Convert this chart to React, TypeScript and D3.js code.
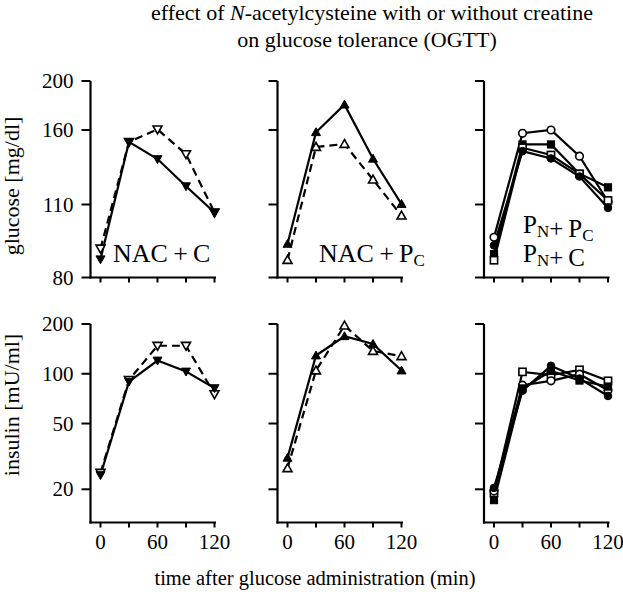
import React from "react";
import * as d3 from "d3";

// ---------- data ----------
const times = [0, 30, 60, 90, 120];
const xTickLabels = [0, 60, 120];
const glucoseTicks = [80, 110, 160, 200];
const insulinTicks = [20, 50, 100, 200];

// glucose [mg/dl]
const gluNacC_solid = [87.5, 152, 140.5, 122.3, 106.7];
const gluNacC_dashed = [91.9, 152, 160.5, 143.8, 106.7];
const gluNacP_solid = [93.8, 158.5, 180.7, 140.7, 110.3];
const gluNacP_dashed = [87.2, 148.6, 150.6, 126.7, 105.4];
const gluP_openCircle = [96.5, 157.8, 160, 142.4, 112];
const gluP_filledSquare = [89.6, 150.3, 150.3, 130.7, 121.5];
const gluP_openSquare = [87.1, 148.1, 143.2, 130.5, 112.7];
const gluP_filledCircle = [93.2, 145.8, 140.9, 128.8, 108.6];

// insulin [mU/ml]
const insNacC_solid = [24.4, 89.7, 120.3, 103.2, 81.9];
const insNacC_dashed = [25.2, 91.9, 147.7, 147.7, 75.3];
const insNacP_solid = [31.0, 128.9, 168.6, 151.4, 104.6];
const insNacP_dashed = [26.8, 104.6, 195.6, 137.4, 127.7];
const insP_openSquare = [19.0, 102.7, 98, 105.6, 90.6];
const insP_openCircle = [19.5, 85.3, 90.6, 99.4, 79.5];
const insP_filledCircle = [20.4, 79, 111.7, 93.6, 73.4];
const insP_filledSquare = [17.2, 81.5, 104, 91, 83.7];

type Series = { values: number[]; shape: string; filled: boolean; dashed: boolean };

const glucosePanels: Series[][] = [
  [
    { values: gluNacC_dashed, shape: "tdown", filled: false, dashed: true },
    { values: gluNacC_solid, shape: "tdown", filled: true, dashed: false },
  ],
  [
    { values: gluNacP_dashed, shape: "tup", filled: false, dashed: true },
    { values: gluNacP_solid, shape: "tup", filled: true, dashed: false },
  ],
  [
    { values: gluP_openCircle, shape: "circle", filled: false, dashed: false },
    { values: gluP_filledSquare, shape: "square", filled: true, dashed: false },
    { values: gluP_openSquare, shape: "square", filled: false, dashed: false },
    { values: gluP_filledCircle, shape: "circle", filled: true, dashed: false },
  ],
];
const insulinPanels: Series[][] = [
  [
    { values: insNacC_dashed, shape: "tdown", filled: false, dashed: true },
    { values: insNacC_solid, shape: "tdown", filled: true, dashed: false },
  ],
  [
    { values: insNacP_dashed, shape: "tup", filled: false, dashed: true },
    { values: insNacP_solid, shape: "tup", filled: true, dashed: false },
  ],
  [
    { values: insP_openSquare, shape: "square", filled: false, dashed: false },
    { values: insP_openCircle, shape: "circle", filled: false, dashed: false },
    { values: insP_filledCircle, shape: "circle", filled: true, dashed: false },
    { values: insP_filledSquare, shape: "square", filled: true, dashed: false },
  ],
];

// ---------- layout ----------
const W = 623;
const H = 592;
const FONT = "'Liberation Serif', 'Times New Roman', serif";
const axisXs = [90.5, 277.5, 484];
const xOffset = 10;
const xWidth = 114;

const topRow = { yTop: 81, yBottom: 277.5 };
const botRow = { yTop: 324, yBottom: 522.5 };

const yGlucose = d3
  .scaleLinear()
  .domain([80, 110, 160, 200])
  .range([277.5, 204.5, 130, 81]);
const yInsulin = d3.scaleLog().domain([200, 20]).range([324, 489.3]);

function Marker({ x, y, shape, filled }: { x: number; y: number; shape: string; filled: boolean }) {
  const fill = filled ? "#000" : "#fff";
  const sw = filled ? 1 : 1.6;
  if (shape === "circle") {
    return <circle cx={x} cy={y} r={3.8} fill={fill} stroke="#000" strokeWidth={sw} />;
  }
  if (shape === "square") {
    return <rect x={x - 3.6} y={y - 3.6} width={7.2} height={7.2} fill={fill} stroke="#000" strokeWidth={sw} />;
  }
  const s = 4.5;
  const pts =
    shape === "tup"
      ? `${x},${y - s} ${x + s},${y + s * 0.75} ${x - s},${y + s * 0.75}`
      : `${x},${y + s} ${x + s},${y - s * 0.75} ${x - s},${y - s * 0.75}`;
  return <polygon points={pts} fill={fill} stroke="#000" strokeWidth={sw} strokeLinejoin="miter" />;
}

function Panel({
  col,
  row,
  series,
  yScale,
  ticks,
  showYLabels,
  showXLabels,
}: {
  col: number;
  row: { yTop: number; yBottom: number };
  series: Series[];
  yScale: any;
  ticks: number[];
  showYLabels: boolean;
  showXLabels: boolean;
}) {
  const ax = axisXs[col];
  const x = d3.scaleLinear().domain([0, 120]).range([ax + xOffset, ax + xOffset + xWidth]);
  const line = d3
    .line<number>()
    .x((_, i) => x(times[i]))
    .y((v) => yScale(v));
  return (
    <g>
      <line x1={ax} x2={ax} y1={row.yTop} y2={row.yBottom + 1} stroke="#000" strokeWidth={2.2} />
      <line x1={ax - 1} x2={x(120) + 1.5} y1={row.yBottom} y2={row.yBottom} stroke="#000" strokeWidth={2.2} />
      {ticks.map((t) => (
        <g key={t}>
          <line x1={ax - 9} x2={ax} y1={yScale(t)} y2={yScale(t)} stroke="#000" strokeWidth={2} />
          {showYLabels && (
            <text x={ax - 17} y={yScale(t) + 7} textAnchor="end" fontSize={21} fontFamily={FONT}>
              {t}
            </text>
          )}
        </g>
      ))}
      {times.map((t) => (
        <line key={t} x1={x(t)} x2={x(t)} y1={row.yBottom} y2={row.yBottom + 5} stroke="#000" strokeWidth={2} />
      ))}
      {showXLabels &&
        xTickLabels.map((t) => (
          <text key={t} x={x(t)} y={549} textAnchor="middle" fontSize={21} fontFamily={FONT}>
            {t}
          </text>
        ))}
      {series.map((s, i) => (
        <path
          key={"l" + i}
          d={line(s.values) || ""}
          fill="none"
          stroke="#000"
          strokeWidth={2.2}
          strokeDasharray={s.dashed ? "8,5" : undefined}
        />
      ))}
      {series.map((s, i) => (
        <g key={"m" + i}>
          {s.values.map((v, j) => (
            <Marker key={j} x={x(times[j])} y={yScale(v)} shape={s.shape} filled={s.filled} />
          ))}
        </g>
      ))}
    </g>
  );
}

export default function App() {
  const sub = (t: string) => (
    <>
      <tspan fontSize={17} dy={4}>
        {t}
      </tspan>
      <tspan dy={-4}>{""}</tspan>
    </>
  );
  return (
    <svg width={W} height={H} style={{ display: "block", position: "absolute", left: 0, top: 0, background: "#fff" }}>
      <rect width={W} height={H} fill="#fff" />
      <text x={372} y={20} textAnchor="middle" fontSize={22} fontFamily={FONT}>
        effect of <tspan fontStyle="italic">N</tspan>-acetylcysteine with or without creatine
      </text>
      <text x={367} y={47} textAnchor="middle" fontSize={22} fontFamily={FONT}>
        on glucose tolerance (OGTT)
      </text>

      <text transform="translate(19,186) rotate(-90)" textAnchor="middle" fontSize={22} fontFamily={FONT}>
        glucose [mg/dl]
      </text>
      <text transform="translate(19,405) rotate(-90)" textAnchor="middle" fontSize={22} fontFamily={FONT}>
        insulin [mU/ml]
      </text>

      <text x={315} y={585} textAnchor="middle" fontSize={20.5} fontFamily={FONT}>
        time after glucose administration (min)
      </text>

      {glucosePanels.map((s, c) => (
        <Panel
          key={"g" + c}
          col={c}
          row={topRow}
          series={s}
          yScale={yGlucose}
          ticks={glucoseTicks}
          showYLabels={c === 0}
          showXLabels={false}
        />
      ))}
      {insulinPanels.map((s, c) => (
        <Panel
          key={"i" + c}
          col={c}
          row={botRow}
          series={s}
          yScale={yInsulin}
          ticks={insulinTicks}
          showYLabels={c === 0}
          showXLabels={true}
        />
      ))}

      <text x={113} y={262} fontSize={26} fontFamily={FONT}>
        NAC{"\u2009"}+{"\u2009"}C
      </text>
      <text x={319} y={262} fontSize={26} fontFamily={FONT}>
        NAC{"\u2009"}+{"\u2009"}P{sub("C")}
      </text>
      <text x={523} y={233} fontSize={25} fontFamily={FONT}>
        P{sub("N")}+{"\u2009"}P{sub("C")}
      </text>
      <text x={523} y={262} fontSize={25} fontFamily={FONT}>
        P{sub("N")}+{"\u2009"}C
      </text>
    </svg>
  );
}
